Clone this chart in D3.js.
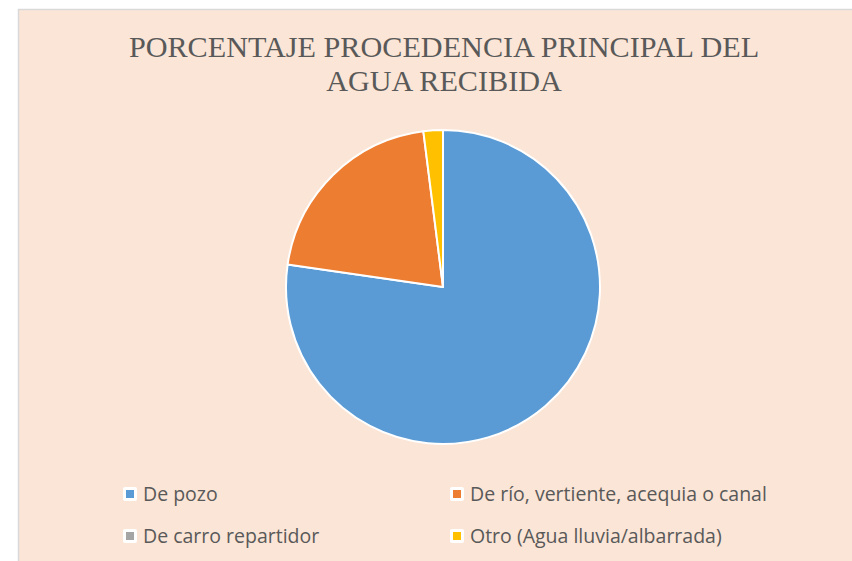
<!DOCTYPE html>
<html>
<head>
<meta charset="utf-8">
<script src="https://cdn.jsdelivr.net/npm/d3@7"></script>
<style>
  body { margin: 0; background: #ffffff; }
  svg { display: block; }
</style>
</head>
<body>
<div id="chart"></div>
<script>
var canvasWidth = 852;
var canvasHeight = 561;

// data
var categories = ["De pozo", "De río, vertiente, acequia o canal", "De carro repartidor", "Otro (Agua lluvia/albarrada)"];
var values = [77.3, 20.7, 0, 2.0];
var colors = ["#5B9BD5", "#ED7D31", "#A5A5A5", "#FFC000"];
var titleLines = ["PORCENTAJE PROCEDENCIA PRINCIPAL DEL", "AGUA RECIBIDA"];

var svg = d3.select("#chart")
    .append("svg")
    .attr("width", canvasWidth)
    .attr("height", canvasHeight);

/*chart area with border*/
svg.append("rect")
    .attr("x", 18.5)
    .attr("y", 9.5)
    .attr("width", canvasWidth + 20)
    .attr("height", canvasHeight + 20)
    .attr("fill", "#FBE5D6")
    .attr("stroke", "#D9D9D9")
    .attr("stroke-width", 1.5);

/*title*/
svg.append("g")
    .selectAll("text")
    .data(titleLines)
    .join("text")
    .attr("x", 444)
    .attr("y", function(d, i) { return 57 + i * 34; })
    .attr("text-anchor", "middle")
    .attr("font-family", "'Liberation Serif', 'Times New Roman', serif")
    .attr("font-size", 30.2)
    .attr("fill", "#595959")
    .text(function(d) { return d; });

var color = d3.scaleOrdinal().domain(categories).range(colors);

var pie = d3.pie().sort(null).value(function(d) { return d.value; });
var arc = d3.arc().innerRadius(0).outerRadius(157);

var pieData = pie(categories.map(function(c, i) { return {name: c, value: values[i]}; }));

svg.append("g")
    .attr("transform", "translate(443,287)")
    .selectAll("path")
    .data(pieData.filter(function(d) { return d.data.value > 0; }))
    .join("path")
    .attr("d", arc)
    .attr("fill", function(d) { return color(d.data.name); })
    .attr("stroke", "#ffffff")
    .attr("stroke-width", 2)
    .attr("stroke-linejoin", "round");

/*legend*/
var legendX = d3.scaleOrdinal().domain([0, 1]).range([123, 450]);
var legendY = d3.scaleOrdinal().domain([0, 1]).range([494, 536]);

var legend = svg.append("g")
    .selectAll("g")
    .data(categories)
    .join("g")
    .attr("transform", function(d, i) {
        return "translate(" + legendX(i % 2) + "," + legendY(Math.floor(i / 2)) + ")";
    });

legend.append("rect")
    .attr("x", 0)
    .attr("y", -7)
    .attr("width", 14)
    .attr("height", 14)
    .attr("rx", 2)
    .attr("fill", "#ffffff");

legend.append("rect")
    .attr("x", 3)
    .attr("y", -4)
    .attr("width", 8)
    .attr("height", 8)
    .attr("fill", function(d) { return color(d); });

legend.append("text")
    .attr("x", 20)
    .attr("y", 0)
    .attr("dy", "0.35em")
    .attr("font-family", "'Open Sans', 'Noto Sans', sans-serif")
    .attr("font-size", 19.5)
    .attr("fill", "#595959")
    .text(function(d) { return d; });
</script>
</body>
</html>
